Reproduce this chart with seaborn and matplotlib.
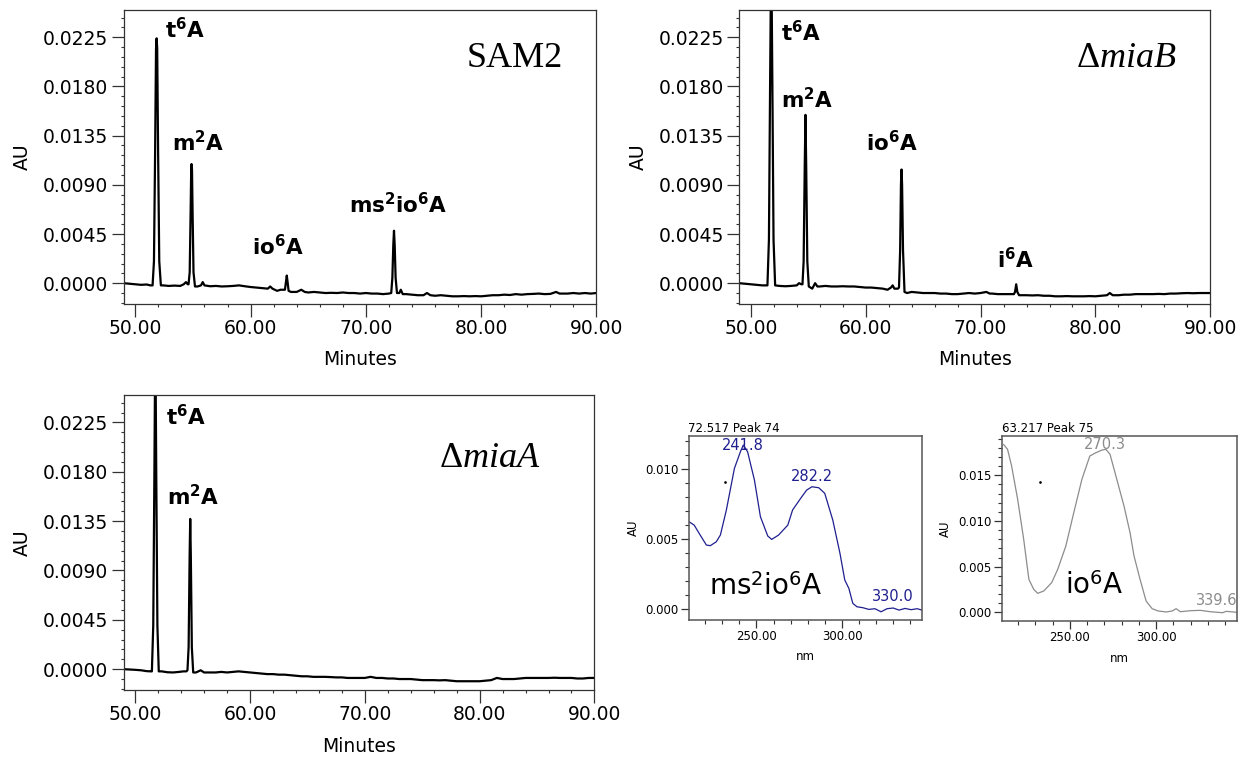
import matplotlib
matplotlib.use("Agg")
import matplotlib.pyplot as plt
import seaborn as sns
import pandas as pd
from matplotlib.ticker import MultipleLocator, FixedLocator, FormatStrFormatter

# ---------------- data ----------------
# SAM2 chromatogram (minutes, AU)
sam2_t = [49.0, 49.5, 50.0, 50.5, 51.0, 51.3,
          51.5, 51.62, 51.72, 51.8, 51.85, 51.9, 51.98, 52.08, 52.22,
          52.4, 52.9, 53.4, 53.9, 54.2, 54.4, 54.55,
          54.62, 54.72, 54.8, 54.85, 54.88, 54.92, 54.97, 55.05, 55.18,
          55.4, 55.7, 55.85, 56.0, 56.5, 57.0, 57.5, 58.0, 58.5, 59.0, 59.5, 60.0,
          60.5, 61.0, 61.5, 61.7, 61.9, 62.3, 62.6, 62.85,
          62.98, 63.08, 63.14, 63.2, 63.3,
          63.5, 64.0, 64.4, 64.7, 65.0, 65.5, 66.0, 66.5, 67.0, 67.5, 68.0, 68.5,
          69.0, 69.5, 70.0, 70.5, 71.0, 71.5, 72.0,
          72.2, 72.3, 72.38, 72.44, 72.5, 72.58, 72.7,
          72.9, 73.03, 73.2, 73.5, 74.0, 74.5, 75.0, 75.3, 75.6, 76.0, 76.5, 77.0,
          77.5, 78.0, 78.5, 79.0, 79.5, 80.0, 80.5, 81.0, 81.5, 82.0, 82.5, 83.0,
          83.5, 84.0, 84.5, 85.0, 85.5, 86.0, 86.5, 86.8, 87.5, 88.0, 88.5, 89.0,
          89.5, 90.0]
sam2_au = [0.0, -0.00005, -0.0001, -0.00015, -0.00012, -0.0002,
           -0.0002, 0.002, 0.012, 0.0215, 0.0224, 0.0215, 0.012, 0.002, -0.0002,
           -0.0002, -0.00025, -0.00022, -0.00025, -0.0001, 0.0001, -0.0001,
           -0.0001, 0.001, 0.0065, 0.0104, 0.0109, 0.0104, 0.0065, 0.001, -0.0003,
           -0.0003, -0.0002, 0.0001, -0.0002, -0.00028, -0.00025, -0.0003, -0.00028,
           -0.00025, -0.0002, -0.00028, -0.00035,
           -0.0004, -0.00045, -0.0005, -0.0003, -0.0005, -0.0007, -0.0006, -0.0006,
           -0.0006, 0.0002, 0.0007, 0.0002, -0.0007,
           -0.0008, -0.0008, -0.0006, -0.0008, -0.00085, -0.0008, -0.00085, -0.0009,
           -0.00088, -0.0009, -0.00085, -0.0009,
           -0.0009, -0.00095, -0.0009, -0.00095, -0.00095, -0.001, -0.00095,
           -0.0009, 0.0005, 0.0035, 0.0048, 0.0035, 0.0005, -0.0009,
           -0.0009, -0.0006, -0.001, -0.001, -0.00105, -0.0011, -0.0011, -0.0009,
           -0.0011, -0.00115, -0.0011, -0.00115,
           -0.0012, -0.0012, -0.00118, -0.0012, -0.00118, -0.0012, -0.00115, -0.0011,
           -0.0011, -0.00105, -0.00108, -0.001,
           -0.00105, -0.001, -0.00098, -0.00095, -0.001, -0.00098, -0.0008, -0.00095,
           -0.00095, -0.0009, -0.00095, -0.0009,
           -0.00095, -0.0009]

# delta miaB chromatogram
miab_t = [49.0, 49.5, 50.0, 50.5, 51.0, 51.3,
          51.45, 51.58, 51.68, 51.78, 51.88, 51.98, 52.12,
          52.5, 53.0, 53.5, 54.0, 54.2, 54.4,
          54.5, 54.6, 54.7, 54.76, 54.82, 54.92, 55.05,
          55.35, 55.6, 55.8, 56.0, 56.5, 57.0, 57.5, 58.0, 58.5, 59.0, 59.5, 60.0,
          60.5, 61.0, 61.5, 61.9, 62.2, 62.35, 62.5, 62.8,
          62.9, 63.0, 63.07, 63.12, 63.17, 63.25, 63.38,
          63.6, 64.0, 64.5, 65.0, 65.5, 66.0, 66.5, 67.0, 67.5, 68.0, 68.5, 69.0,
          69.5, 70.0, 70.5, 70.8, 71.0, 71.5, 72.0, 72.5, 72.9,
          73.0, 73.1, 73.2, 73.35,
          73.5, 74.0, 74.5, 75.0, 75.5, 76.0, 76.5, 77.0, 77.5, 78.0, 78.5, 79.0,
          79.5, 80.0, 80.5, 81.0, 81.25, 81.5, 82.0, 82.5, 83.0, 83.5, 84.0, 84.5,
          85.0, 85.5, 86.0, 86.5, 87.0, 87.5, 88.0, 88.5, 89.0, 89.5, 90.0]
miab_au = [0.0, -0.00005, -0.0001, -0.00015, -0.0002, -0.0002,
           -0.0002, 0.004, 0.018, 0.031, 0.018, 0.004, -0.0002,
           -0.00025, -0.00028, -0.00025, -0.0002, 0.0, -0.0001,
           -0.0001, 0.002, 0.011, 0.0154, 0.011, 0.002, -0.0003,
           -0.0005, 0.0, -0.0003, -0.0003, -0.00025, -0.0003, -0.0003, -0.00028,
           -0.0003, -0.0003, -0.00035, -0.0004,
           -0.0004, -0.00045, -0.0005, -0.0006, -0.0004, -0.0002, -0.0005, -0.0005,
           -0.0004, 0.003, 0.009, 0.0104, 0.009, 0.003, -0.0008,
           -0.0009, -0.0008, -0.00085, -0.0009, -0.0009, -0.0009, -0.00095, -0.00095,
           -0.001, -0.001, -0.00095, -0.0009,
           -0.00095, -0.0009, -0.0008, -0.00095, -0.00095, -0.001, -0.001, -0.001, -0.001,
           -0.0008, -0.0001, -0.0008, -0.0011,
           -0.0011, -0.0011, -0.00112, -0.0011, -0.00115, -0.00115, -0.0012, -0.0012,
           -0.00118, -0.0012, -0.0012, -0.0012,
           -0.00118, -0.0012, -0.00115, -0.0011, -0.0009, -0.0011, -0.0011, -0.00105,
           -0.00105, -0.001, -0.001, -0.001,
           -0.001, -0.00098, -0.001, -0.00095, -0.00095, -0.00092, -0.0009, -0.00092,
           -0.0009, -0.0009, -0.0009]

# delta miaA chromatogram
miaa_t = [49.0, 49.5, 50.0, 50.5, 51.0, 51.35,
          51.45, 51.57, 51.67, 51.75, 51.83, 51.93, 52.05,
          52.3, 52.8, 53.3, 53.8, 54.2, 54.45,
          54.55, 54.65, 54.74, 54.79, 54.84, 54.93, 55.05,
          55.3, 55.7, 56.0, 56.5, 57.0, 57.5, 58.0, 58.5, 59.0, 59.5, 60.0, 60.5,
          61.0, 61.5, 62.0, 62.5, 63.0, 63.5, 64.0, 64.5, 65.0, 65.5, 66.0, 66.5,
          67.0, 67.5, 68.0, 68.5, 69.0, 69.5, 70.0, 70.5, 71.0, 71.5, 72.0, 72.5,
          73.0, 73.5, 74.0, 74.5, 75.0, 75.5, 76.0, 76.5, 77.0, 77.5, 78.0, 78.5,
          79.0, 79.5, 80.0, 80.5, 81.0, 81.5, 82.0, 82.5, 83.0, 83.5, 84.0, 84.5,
          85.0, 85.5, 86.0, 86.5, 87.0, 87.5, 88.0, 88.5, 89.0, 89.5, 90.0]
miaa_au = [0.0, -0.00003, -0.00006, -0.0001, -0.00018, -0.0002,
           -0.0002, 0.004, 0.018, 0.031, 0.018, 0.004, -0.0002,
           -0.0002, -0.00028, -0.0003, -0.00025, -0.0002, -0.0002,
           -0.0001, 0.002, 0.0105, 0.0137, 0.0105, 0.002, -0.0003,
           -0.0003, -0.0001, -0.0003, -0.0003, -0.0003, -0.00025, -0.0003, -0.00025,
           -0.0002, -0.00025, -0.0003, -0.00035,
           -0.0004, -0.00045, -0.00045, -0.0005, -0.0005, -0.00055, -0.0006, -0.00065,
           -0.00065, -0.0007, -0.0007, -0.0007,
           -0.00072, -0.00075, -0.00075, -0.0008, -0.0008, -0.0008, -0.0008, -0.0007,
           -0.0008, -0.0008, -0.00085, -0.00085,
           -0.0009, -0.0009, -0.0009, -0.00095, -0.001, -0.001, -0.001, -0.00102,
           -0.001, -0.00105, -0.0011, -0.0011,
           -0.0011, -0.0011, -0.0011, -0.00105, -0.001, -0.0008, -0.0009, -0.0009,
           -0.0009, -0.00085, -0.0008, -0.0008,
           -0.0008, -0.0008, -0.0008, -0.00078, -0.0008, -0.0008, -0.0008, -0.00085,
           -0.00085, -0.0008, -0.0008]

# UV spectrum of ms2io6A (peak 74, 72.517 min)
spec1_nm = [210.6, 213.6, 217.1, 220.7, 223.0, 226.5, 228.9, 232.4, 237.1, 240.6,
            242.3, 244.8, 248.8, 252.3, 256.6, 258.9, 262.9, 268.3, 271.1, 275.8,
            279.3, 282.4, 286.4, 289.9, 294.6, 298.8, 301.6, 304.0, 306.3, 308.7,
            312.2, 315.7, 319.2, 322.8, 326.3, 329.9, 333.3, 336.8, 340.4, 343.9, 346.7]
spec1_au = [0.00626, 0.00602, 0.00531, 0.00460, 0.00455, 0.00483, 0.00531, 0.00710,
            0.01007, 0.01126, 0.01174, 0.01126, 0.00924, 0.00662, 0.00524, 0.00500,
            0.00531, 0.00602, 0.00710, 0.00793, 0.00852, 0.00876, 0.00869, 0.00829,
            0.00638, 0.00400, 0.00210, 0.00150, 0.00043, 0.00019, 0.00012, 0.0,
            0.00005, -0.00017, 0.00005, 0.0001, -0.00005, 0.00007, -0.00002, 0.00005,
            -0.00005]

# UV spectrum of io6A (peak 75, 63.217 min)
spec2_nm = [211.6, 213.95, 216.3, 219.8, 223.3, 226.3, 229.1, 231.4, 234.9, 239.5,
            243.0, 247.7, 252.3, 257.0, 261.6, 265.1, 268.6, 270.9, 273.3, 276.7,
            281.4, 284.9, 287.2, 290.7, 294.2, 297.7, 301.2, 305.8, 309.3, 311.6,
            314.0, 319.8, 325.6, 331.4, 338.4, 340.7, 347.0]
spec2_au = [0.01839, 0.01785, 0.01602, 0.01237, 0.00799, 0.00361, 0.00252, 0.00208,
            0.00234, 0.00325, 0.00471, 0.00726, 0.01091, 0.01456, 0.01712, 0.01748,
            0.01777, 0.01785, 0.01730, 0.01493, 0.01164, 0.00872, 0.00617, 0.00361,
            0.00124, 0.00040, 0.00015, 0.00004, 0.00015, 0.00040, 0.00007, 0.00018,
            0.00022, 0.00007, -0.00004, 0.00011, 0.0]

# stray cursor dots in the spectrum panels
dot1_nm, dot1_au = [231.7], [0.00912]
dot2_nm, dot2_au = [233.0], [0.0143]

chrom_yticks = [0.0, 0.0045, 0.0090, 0.0135, 0.0180, 0.0225]
spec_xticks = [250, 300]

# peak labels: (text, x_frac, y_frac)
sam2_labels = [(r"$\mathbf{t^{6}A}$", 0.088, 0.904), (r"$\mathbf{m^{2}A}$", 0.102, 0.518),
               (r"$\mathbf{io^{6}A}$", 0.272, 0.167), (r"$\mathbf{ms^{2}io^{6}A}$", 0.4775, 0.3085)]
miab_labels = [(r"$\mathbf{t^{6}A}$", 0.088, 0.892), (r"$\mathbf{m^{2}A}$", 0.088, 0.6655),
               (r"$\mathbf{io^{6}A}$", 0.2685, 0.518), (r"$\mathbf{i^{6}A}$", 0.548, 0.121)]
miaa_labels = [(r"$\mathbf{t^{6}A}$", 0.0887, 0.896), (r"$\mathbf{m^{2}A}$", 0.0913, 0.627)]

# ---------------- styling ----------------
sns.set_theme(style="ticks")
plt.rcParams["font.family"] = ["DejaVu Sans"]
plt.rcParams.update({
    "mathtext.fontset": "custom",
    "mathtext.rm": "DejaVu Sans",
    "mathtext.bf": "DejaVu Sans:bold",
    "mathtext.it": "Liberation Serif:italic",
    "mathtext.sf": "Liberation Serif",
    "text.color": "black",
    "axes.labelcolor": "black",
    "xtick.color": "#333333",
    "ytick.color": "#333333",
    "xtick.labelcolor": "black",
    "ytick.labelcolor": "black",
    "axes.edgecolor": "#333333",
})

fig = plt.figure(figsize=(12.4, 7.58), dpi=100)
ax1 = fig.add_axes([0.0998, 0.599, 0.3812, 0.3879])
ax2 = fig.add_axes([0.5962, 0.599, 0.3799, 0.3879])
ax3 = fig.add_axes([0.0998, 0.0897, 0.3796, 0.3892])
ax4 = fig.add_axes([0.5557, 0.182, 0.1878, 0.2427])
ax5 = fig.add_axes([0.8083, 0.1807, 0.1895, 0.244])


def style_chrom(ax):
    ax.set_xlim(49, 90)
    ax.set_ylim(-0.0019, 0.0250)
    ax.xaxis.set_major_locator(MultipleLocator(10))
    ax.xaxis.set_minor_locator(MultipleLocator(2))
    ax.yaxis.set_major_locator(FixedLocator(chrom_yticks))
    ax.yaxis.set_minor_locator(MultipleLocator(0.0009))
    ax.xaxis.set_major_formatter(FormatStrFormatter("%.2f"))
    ax.yaxis.set_major_formatter(FormatStrFormatter("%.4f"))
    ax.tick_params(which="major", direction="out", length=9, width=0.9,
                   labelsize=13.5, pad=2)
    ax.tick_params(which="minor", direction="out", length=2.5, width=0.8)
    for sp in ax.spines.values():
        sp.set_visible(True)
        sp.set_linewidth(0.9)
    ax.set_xlabel("Minutes", fontsize=13.5, va="center")
    ax.xaxis.set_label_coords(0.5, -0.19)
    ax.set_ylabel("AU", fontsize=13.5, va="center")
    ax.yaxis.set_label_coords(-0.215, 0.5)


def style_spec(ax, xlim, ylim):
    ax.set_xlim(*xlim)
    ax.set_ylim(*ylim)
    ax.xaxis.set_major_locator(FixedLocator(spec_xticks))
    ax.xaxis.set_minor_locator(MultipleLocator(10))
    ax.yaxis.set_major_locator(MultipleLocator(0.005))
    ax.yaxis.set_minor_locator(MultipleLocator(0.001))
    ax.xaxis.set_major_formatter(FormatStrFormatter("%.2f"))
    ax.yaxis.set_major_formatter(FormatStrFormatter("%.3f"))
    ax.tick_params(which="major", direction="out", length=6, width=0.9,
                   labelsize=8.5, pad=1.5)
    ax.tick_params(which="minor", direction="out", length=3, width=0.8)
    for sp in ax.spines.values():
        sp.set_visible(True)
        sp.set_linewidth(1.1)
        sp.set_color("#555555")
    ax.set_xlabel("nm", fontsize=8.5, va="center")
    ax.xaxis.set_label_coords(0.5, -0.2)
    ax.set_ylabel("AU", fontsize=8.5, va="center")
    ax.yaxis.set_label_coords(-0.24, 0.5)


chroms = [(ax1, sam2_t, sam2_au, sam2_labels, "SAM2", 0.7256, 0.807),
          (ax2, miab_t, miab_au, miab_labels, r"$\mathsf{Δ}\mathit{miaB}$", 0.714, 0.807),
          (ax3, miaa_t, miaa_au, miaa_labels, r"$\mathsf{Δ}\mathit{miaA}$", 0.67, 0.757)]

for ax, t, au, labels, title, tx, ty in chroms:
    df = pd.DataFrame({"Minutes": t, "AU": au})
    sns.lineplot(data=df, x="Minutes", y="AU", ax=ax, color="black", linewidth=1.6,
                 estimator=None, sort=False)
    style_chrom(ax)
    for txt, fx, fy in labels:
        ax.text(fx, fy, txt, transform=ax.transAxes, fontsize=15.5,
                ha="left", va="baseline")
    ax.text(tx, ty, title, transform=ax.transAxes, fontsize=26,
            family="Liberation Serif", ha="left", va="baseline")

# spectra
df1 = pd.DataFrame({"nm": spec1_nm, "AU": spec1_au})
sns.lineplot(data=df1, x="nm", y="AU", ax=ax4, color="#1f1f8f", linewidth=0.9,
             estimator=None, sort=False)
ax4.plot(dot1_nm, dot1_au, "o", color="black", markersize=0.9)
style_spec(ax4, (210.6, 346.7), (-0.00076, 0.01238))
ax4.text(-0.003, 1.0236, "72.517 Peak 74", transform=ax4.transAxes, fontsize=8.5,
         ha="left", va="baseline")
ax4.text(0.2293, 0.924, "241.8", transform=ax4.transAxes, fontsize=10.5,
         color="#1f1f8f", ha="center", va="baseline")
ax4.text(0.526, 0.757, "282.2", transform=ax4.transAxes, fontsize=10.5,
         color="#1f1f8f", ha="center", va="baseline")
ax4.text(0.876, 0.103, "330.0", transform=ax4.transAxes, fontsize=10.5,
         color="#1f1f8f", ha="center", va="baseline")
ax4.text(0.0862, 0.136, r"ms$^{2}$io$^{6}$A", transform=ax4.transAxes, fontsize=20,
         ha="left", va="baseline")

df2 = pd.DataFrame({"nm": spec2_nm, "AU": spec2_au})
sns.lineplot(data=df2, x="nm", y="AU", ax=ax5, color="#8c8c8c", linewidth=0.9,
             estimator=None, sort=False)
ax5.plot(dot2_nm, dot2_au, "o", color="black", markersize=0.9)
style_spec(ax5, (210.9, 347.0), (-0.00095, 0.0193))
ax5.text(-0.003, 1.0216, "63.217 Peak 75", transform=ax5.transAxes, fontsize=8.5,
         ha="left", va="baseline")
ax5.text(0.4376, 0.9315, "270.3", transform=ax5.transAxes, fontsize=10.5,
         color="#8c8c8c", ha="center", va="baseline")
ax5.text(0.911, 0.0865, "339.6", transform=ax5.transAxes, fontsize=10.5,
         color="#8c8c8c", ha="center", va="baseline", clip_on=False)
ax5.text(0.2667, 0.144, r"io$^{6}$A", transform=ax5.transAxes, fontsize=20,
         ha="left", va="baseline")

fig.savefig("out.png", dpi=100, facecolor="white")
